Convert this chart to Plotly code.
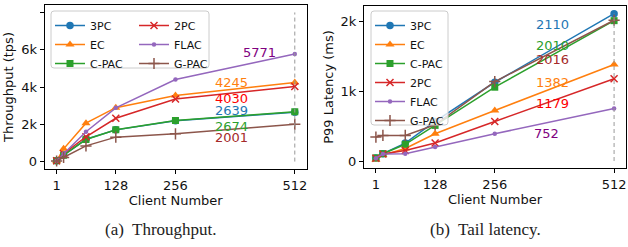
import plotly.graph_objects as go

# ---------------- data ----------------
clients = [1, 16, 64, 128, 256, 512]
series = ["3PC", "EC", "C-PAC", "2PC", "FLAC", "G-PAC"]

tput_3pc = [40, 350, 1200, 1700, 2190, 2639]
tput_ec = [40, 680, 2060, 2890, 3540, 4245]
tput_cpac = [40, 340, 1180, 1710, 2200, 2674]
tput_2pc = [40, 420, 1330, 2320, 3360, 4030]
tput_flac = [40, 420, 1600, 2880, 4400, 5771]
tput_gpac = [30, 220, 840, 1310, 1490, 2001]

lat_3pc = [45, 105, 257, 566, 1128, 2110]
lat_ec = [20, 85, 180, 390, 723, 1382]
lat_cpac = [45, 105, 240, 510, 1057, 2010]
lat_2pc = [40, 100, 150, 257, 566, 1179]
lat_flac = [40, 100, 105, 200, 390, 752]
lat_gpac = [343, 366, 366, 519, 1137, 2016]

x_ticks = [1, 128, 256, 512]
tput_ticks = [0, 2000, 4000, 6000, 8000]
tput_tick_text = ["0", "2k", "4k", "6k", ""]
lat_ticks = [0, 1000, 2000]
lat_tick_text = ["0", "1k", "2k"]
tput_guide_top = 8000

# ---------------- styles ----------------
line_colors = ["#1f77b4", "#ff7f0e", "#2ca02c", "#d62728", "#9467bd", "#8c564b"]
label_colors = ["#1f77b4", "#ff7f0e", "#2ca02c", "red", "purple", "brown"]
symbols = ["circle", "triangle-up", "square", "x-thin", "circle", "cross-thin"]
sizes = [7.5, 8, 7, 7, 4.5, 8]

FONT = "DejaVu Sans"
W, H = 628, 247

tput = [tput_3pc, tput_ec, tput_cpac, tput_2pc, tput_flac, tput_gpac]
lat = [lat_3pc, lat_ec, lat_cpac, lat_2pc, lat_flac, lat_gpac]

fig = go.Figure()


def add_series(ys, xa, ya, legends):
    for i, name in enumerate(series):
        thin = symbols[i].endswith("-thin")
        fig.add_trace(go.Scatter(
            x=clients, y=ys[i], name=name, mode="lines+markers",
            xaxis=xa, yaxis=ya, legend=legends[i],
            line=dict(color=line_colors[i], width=1.5),
            marker=dict(symbol=symbols[i], size=sizes[i], color=line_colors[i],
                        line=dict(color=line_colors[i], width=1.5 if thin else 0)),
        ))


add_series(tput, "x", "y", ["legend", "legend", "legend", "legend2", "legend2", "legend2"])
add_series(lat, "x2", "y2", ["legend3"] * 6)

# dashed guide lines at the largest client count
fig.add_trace(go.Scatter(x=[clients[-1]] * 2, y=[0, tput_guide_top], mode="lines",
                         xaxis="x", yaxis="y", showlegend=False, hoverinfo="skip",
                         line=dict(color="#999999", width=1, dash="4px,3px")))
fig.add_trace(go.Scatter(x=[clients[-1]] * 2, y=[0, max(s[-1] for s in lat)], mode="lines",
                         xaxis="x2", yaxis="y2", showlegend=False, hoverinfo="skip",
                         line=dict(color="#999999", width=1, dash="4px,3px")))

# value labels
tput_label_pos = [(377, 2763), (377, 4265), (377, 1905), (377, 3407), (437, 5875), (377, 1314)]
lat_label_pos = [(379, 1957), (379, 1126), (379, 1656), (379, 825), (368, 395), (379, 1456)]
anns = []
for i in range(6):
    for (xr, yr, ys, pos) in (("x", "y", tput, tput_label_pos), ("x2", "y2", lat, lat_label_pos)):
        anns.append(dict(x=pos[i][0], y=pos[i][1], xref=xr, yref=yr, text=str(ys[i][-1]),
                         showarrow=False, font=dict(family=FONT, size=13, color=label_colors[i]),
                         xanchor="center", yanchor="middle"))

anns.append(dict(x=161 / W, y=1 - 229 / H, xref="paper", yref="paper", text="(a)  Throughput.",
                 showarrow=False, font=dict(family="Liberation Serif", size=17, color="#222"),
                 xanchor="center", yanchor="middle"))
anns.append(dict(x=485 / W, y=1 - 229 / H, xref="paper", yref="paper", text="(b)  Tail latency.",
                 showarrow=False, font=dict(family="Liberation Serif", size=17, color="#222"),
                 xanchor="center", yanchor="middle"))


def rrect(x0, y0, x1, y1, r=3):
    # pixel box -> rounded path in paper coords
    def px(x): return x / W
    def py(y): return 1 - y / H
    return (f"M {px(x0 + r)},{py(y0)} L {px(x1 - r)},{py(y0)} Q {px(x1)},{py(y0)} {px(x1)},{py(y0 + r)} "
            f"L {px(x1)},{py(y1 - r)} Q {px(x1)},{py(y1)} {px(x1 - r)},{py(y1)} "
            f"L {px(x0 + r)},{py(y1)} Q {px(x0)},{py(y1)} {px(x0)},{py(y1 - r)} "
            f"L {px(x0)},{py(y0 + r)} Q {px(x0)},{py(y0)} {px(x0 + r)},{py(y0)} Z")


shapes = [
    dict(type="path", path=rrect(51, 11, 209, 68), xref="paper", yref="paper", layer="above",
         line=dict(color="#cccccc", width=1), fillcolor="rgba(255,255,255,0.8)"),
    dict(type="path", path=rrect(371, 11, 448, 125), xref="paper", yref="paper", layer="above",
         line=dict(color="#cccccc", width=1), fillcolor="rgba(255,255,255,0.8)"),
]

axis_common = dict(showline=True, linecolor="black", linewidth=1, mirror=True, ticks="outside",
                   ticklen=4, tickcolor="black", showgrid=False, zeroline=False, automargin=False,
                   tickfont=dict(family=FONT, size=13, color="#111"))

leg_common = dict(xanchor="left", yanchor="top", bgcolor="rgba(0,0,0,0)", borderwidth=0,
                  tracegroupgap=0, font=dict(family=FONT, size=11, color="#111"))

fig.update_layout(
    width=W, height=H, margin=dict(l=0, r=0, t=0, b=0),
    paper_bgcolor="white", plot_bgcolor="white",
    font=dict(family=FONT, size=13, color="#111"),
    xaxis=dict(domain=[44.7 / W, 306.7 / W], range=[-24.55, 537.55], tickvals=x_ticks,
               title=dict(text="Client Number", standoff=2, font=dict(size=13)), anchor="y", **axis_common),
    yaxis=dict(domain=[1 - 169 / H, 1 - 5 / H], range=[-400, 8400], tickvals=tput_ticks,
               ticktext=tput_tick_text, title=dict(text="Throughput (tps)", standoff=4, font=dict(size=13)),
               anchor="x", **axis_common),
    xaxis2=dict(domain=[364 / W, 626 / W], range=[-24.55, 537.55], tickvals=x_ticks,
                title=dict(text="Client Number", standoff=2, font=dict(size=13)), anchor="y2", **axis_common),
    yaxis2=dict(domain=[1 - 168 / H, 1 - 6 / H], range=[-100, 2220], tickvals=lat_ticks,
                ticktext=lat_tick_text, title=dict(text="P99 Latency (ms)", standoff=4, font=dict(size=13)),
                anchor="x2", **axis_common),
    legend=dict(x=50 / W, y=1 - 11 / H, **leg_common),
    legend2=dict(x=134 / W, y=1 - 11 / H, **leg_common),
    legend3=dict(x=370 / W, y=1 - 11 / H, **leg_common),
    annotations=anns, shapes=shapes, showlegend=True,
)

fig.write_html("out.html", config={"displayModeBar": False},
               post_script="document.body.style.margin='0';document.body.style.overflow='hidden';")
